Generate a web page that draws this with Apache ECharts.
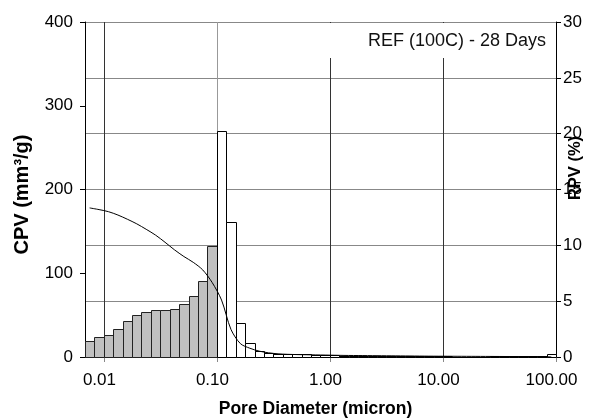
<!DOCTYPE html>
<html lang="en">
<head>
    <meta charset="UTF-8">
    <title>REF (100C) - 28 Days</title>
    <style>
        html, body { margin: 0; padding: 0; background: #fff; }
        #main { width: 606px; height: 419px; }
    </style>
</head>
<body>
<div id="main"></div>
<script src="https://cdn.jsdelivr.net/npm/echarts@6/dist/echarts.min.js"></script>
<script type="text/javascript">
    // pore diameter at bin centre (micron)
    var diam = [0.00747, 0.00906, 0.01098, 0.0133, 0.01611, 0.01952, 0.02365, 0.02866, 0.03472, 0.04207,
        0.05097, 0.06176, 0.07482, 0.09065, 0.1098, 0.133, 0.1612, 0.1953, 0.2366, 0.2867,
        0.3473, 0.4208, 0.5098, 0.6177, 0.7484, 0.9069, 1.099, 1.331, 1.613, 1.954,
        2.368, 2.869, 3.476, 4.212, 5.103, 6.183, 7.492, 9.077, 11.0, 13.32,
        16.14, 19.56, 23.7, 28.71, 34.78, 42.14, 51.06, 61.86, 74.95, 90.81];
    // relative pore volume (%) - bars
    var rpv = [1.40, 1.79, 1.97, 2.53, 3.25, 3.76, 4.00, 4.21, 4.21, 4.30,
        4.75, 5.46, 6.81, 9.97, 20.2, 12.06, 3.02, 1.23, 0.57, 0.39,
        0.30, 0.28, 0.26, 0.24, 0.22, 0.18, 0.14, 0.12, 0.10, 0.10,
        0.08, 0.08, 0.07, 0.06, 0.06, 0.05, 0.05, 0.05, 0.05, 0.04,
        0.04, 0.04, 0.04, 0.05, 0.05, 0.06, 0.06, 0.08, 0.10, 0.25];
    // cumulative pore volume (mm3/g) - line
    var cpv = [178, 176, 173.5, 169.5, 164.5, 159, 152.5, 145.5, 137, 128,
        120, 113, 104, 89, 68, 33, 16, 10.5, 7, 5,
        3.8, 3.2, 2.9, 2.7, 2.5, 2.3, 2.1, 1.9, 1.8, 1.7,
        1.6, 1.5, 1.4, 1.3, 1.2, 1.1, 1.0, 0.95, 0.9, 0.85,
        0.8, 0.75, 0.7, 0.65, 0.6, 0.55, 0.5, 0.4, 0.3, 0.1];
    var xTicks = [0.01, 0.1, 1, 10, 100];
    var xMin = 0.0068, xMax = 100;
    var grayBelow = 0.1;

    var font = 'Liberation Sans, Arial, sans-serif';
    var myChart = echarts.init(document.getElementById('main'));

    // bins are drawn on log10(diameter); edges sit half way between centres
    var lg = diam.map(function (d) { return Math.log10(d); });
    var barData = lg.map(function (c, i) {
        var lo = i > 0 ? (lg[i - 1] + c) / 2 : c - (lg[1] - lg[0]) / 2;
        var hi = i < lg.length - 1 ? (c + lg[i + 1]) / 2 : c + (c - lg[i - 1]) / 2;
        return [lo, hi, rpv[i], diam[i] < grayBelow ? 1 : 0];
    });
    var lineData = lg.map(function (c, i) { return [c, cpv[i]]; });
    var tickVals = xTicks.map(function (v) { return Math.log10(v); });

    function renderBin(params, api) {
        var p0 = api.coord([api.value(0), api.value(2)]);
        var p1 = api.coord([api.value(1), 0]);
        var x0 = Math.round(p0[0]) + 0.5, x1 = Math.round(p1[0]) + 0.5;
        var y0 = Math.round(p0[1]) + 0.5, y1 = Math.round(p1[1]) + 0.5;
        return {
            type: 'rect',
            shape: { x: x0, y: y0, width: x1 - x0, height: y1 - y0 },
            style: {
                fill: api.value(3) ? '#c0c0c0' : '#ffffff',
                stroke: api.value(3) ? '#222' : '#000',
                lineWidth: 1
            }
        };
    }

    var option = {
        animation: false,
        backgroundColor: '#fff',
        grid: { left: 85, right: 50, top: 22, bottom: 62, outerBoundsMode: 'none' },
        xAxis: {
            type: 'value',
            min: Math.log10(xMin),
            max: Math.log10(xMax),
            name: 'Pore Diameter (micron)',
            nameLocation: 'middle',
            nameGap: 43,
            nameMoveOverlap: false,
            nameTextStyle: { fontFamily: font, fontWeight: 'bold', fontSize: 17.5, color: '#000', padding: [0, 10, 0, 0] },
            axisLine: { onZero: false, lineStyle: { color: '#000', width: 1 } },
            axisTick: { customValues: tickVals, length: 5, lineStyle: { color: '#888' } },
            axisLabel: {
                customValues: tickVals,
                formatter: function (v) { return Math.pow(10, v).toFixed(2); },
                fontFamily: font, fontSize: 17, color: '#000', margin: 15,
                padding: [0, 9, 0, 0]
            },
            splitLine: {
                show: true,
                lineStyle: { color: ['#333', '#999', '#333', '#333', '#000'], width: 1 }
            }
        },
        yAxis: [{
            type: 'value',
            min: 0, max: 400, interval: 100,
            name: 'CPV (mm³/g)',
            nameLocation: 'middle',
            nameRotate: 90,
            nameGap: 53,
            nameMoveOverlap: false,
            nameTextStyle: { fontFamily: font, fontWeight: 'bold', fontSize: 20, color: '#000', padding: [0, 10, 0, 0] },
            axisLine: { show: true, onZero: false, lineStyle: { color: '#000' } },
            axisTick: { show: true, inside: false, length: 5, lineStyle: { color: '#000' } },
            axisLabel: { fontFamily: font, fontSize: 17, color: '#000', margin: 12 },
            splitLine: { show: false }
        }, {
            type: 'value',
            position: 'right',
            min: 0, max: 30, interval: 5,
            axisLine: { show: true, onZero: false, lineStyle: { color: '#000' } },
            axisTick: { show: true, inside: false, length: 5, lineStyle: { color: '#000' } },
            axisLabel: { fontFamily: font, fontSize: 17, color: '#000', margin: 7 },
            splitLine: { show: true, lineStyle: { color: '#888', width: 1 } }
        }],
        graphic: [{
            type: 'rect',
            shape: { x: 300, y: 23, width: 255, height: 35 },
            style: { fill: '#fff' },
            z: 10
        }, {
            type: 'text',
            x: 546, y: 41,
            style: {
                text: 'REF (100C) - 28 Days',
                fontFamily: font, fontSize: 18, fill: '#111',
                textAlign: 'right', textVerticalAlign: 'middle'
            },
            z: 11
        }, {
            // right axis title, sits over the tick labels like the original
            type: 'text',
            x: 575, y: 168,
            rotation: Math.PI / 2,
            style: {
                text: 'RPV (%)',
                fontFamily: font, fontSize: 16.5, fontWeight: 'bold', fill: '#000',
                textAlign: 'center', textVerticalAlign: 'middle'
            },
            z: 11
        }],
        series: [{
            name: 'RPV',
            type: 'custom',
            yAxisIndex: 1,
            renderItem: renderBin,
            encode: { x: [0, 1], y: 2 },
            data: barData,
            z: 2
        }, {
            name: 'CPV',
            type: 'line',
            yAxisIndex: 0,
            data: lineData,
            smooth: 0.3,
            showSymbol: false,
            lineStyle: { color: '#000', width: 1 },
            z: 3
        }]
    };
    myChart.setOption(option);
</script>
</body>
</html>
